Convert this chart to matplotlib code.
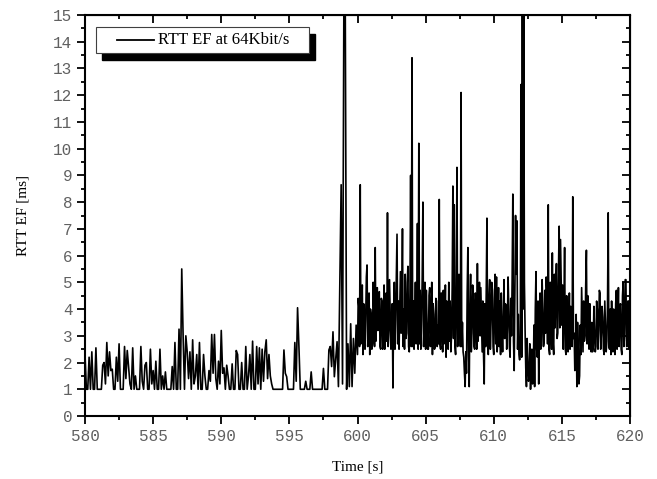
import numpy as np
import matplotlib
matplotlib.use("Agg")
import matplotlib.pyplot as plt
from matplotlib.patches import Rectangle
from matplotlib.lines import Line2D
from matplotlib.ticker import MultipleLocator

# RTT samples.
# 580-600 s: one sample every 0.1 s, one row per second
rtt_580s = [
    2.3, 1.0, 1.0, 2.2, 1.0, 2.4, 1.0, 1.0, 2.55, 1.0,
    1.0, 1.0, 1.0, 1.9, 2.0, 1.2, 2.75, 1.5, 2.4, 1.7,
    1.75, 1.0, 1.0, 2.2, 1.3, 2.7, 1.0, 1.0, 1.0, 2.6,
    1.4, 2.45, 1.8, 1.2, 1.0, 2.55, 1.0, 1.5, 1.0, 1.0,
    1.0, 2.6, 1.3, 1.0, 1.9, 2.0, 1.0, 1.0, 2.5, 1.2,
    1.7, 1.0, 2.05, 1.0, 1.0, 2.5, 1.0, 1.5, 1.0, 1.65,
    1.0, 1.0, 1.0, 1.0, 1.85, 1.0, 2.75, 1.0, 1.0, 3.25,
    1.0, 5.5, 3.0, 1.0, 3.0, 2.4, 1.4, 2.4, 1.0, 2.85,
    1.2, 1.5, 2.3, 1.0, 2.75, 1.0, 1.0, 2.3, 1.5, 1.0,
    1.0, 1.7, 1.3, 3.05, 1.6, 3.05, 1.4, 1.0, 2.05, 1.2,
]
rtt_590s = [
    3.2, 1.6, 1.8, 1.0, 1.9, 1.5, 1.0, 1.0, 1.95, 1.0,
    1.0, 2.45, 2.3, 1.0, 1.0, 2.0, 1.0, 1.0, 2.6, 1.0,
    1.5, 2.3, 1.0, 2.8, 1.0, 1.0, 2.6, 1.2, 2.55, 1.0,
    2.5, 1.3, 2.4, 2.85, 1.4, 2.3, 1.5, 1.2, 1.0, 1.0,
    1.0, 1.0, 1.0, 1.0, 1.0, 1.0, 2.47, 1.6, 1.47, 1.0,
    1.0, 1.0, 1.0, 1.0, 2.75, 1.3, 4.05, 2.6, 1.0, 1.0,
    1.0, 1.0, 1.3, 1.0, 1.0, 1.0, 1.65, 1.0, 1.0, 1.0,
    1.0, 1.0, 1.0, 1.0, 1.0, 1.78, 1.0, 1.0, 1.0, 2.47,
    2.6, 1.85, 3.15, 1.47, 2.1, 2.78, 1.1, 4.8, 8.65, 1.2,
    15.5, 15.5, 1.0, 2.7, 1.1, 3.45, 1.1, 2.9, 1.6, 3.4,
]
# 600-620 s: one sample every 0.05 s, one row per second
rtt_600s = [
    2.3, 4.4, 4.1, 2.6, 8.65, 2.7, 3.7, 4.9, 2.3, 4.2, 3.9, 2.5, 3.6, 5.2, 5.65, 2.6, 3.5, 4.6, 2.3, 4.0,
    3.8, 2.5, 2.7, 5.0, 4.0, 2.6, 6.3, 2.8, 3.6, 4.8, 3.2, 4.5, 4.65, 2.6, 2.5, 4.4, 4.3, 2.5, 3.4, 4.9,
    2.5, 4.5, 4.6, 2.8, 7.6, 2.6, 3.2, 5.1, 3.7, 2.5, 2.6, 4.2, 1.05, 3.9, 5.0, 2.5, 3.6, 5.3, 6.8, 2.7,
    4.3, 2.5, 3.9, 5.4, 3.1, 4.3, 7.0, 2.6, 4.0, 2.5, 5.3, 2.9, 3.1, 5.0, 5.6, 2.6, 2.4, 4.6, 9.0, 2.6,
    13.4, 2.6, 4.3, 2.5, 3.5, 5.0, 2.7, 4.1, 7.2, 2.5, 10.2, 2.7, 4.7, 2.5, 3.6, 5.2, 8.0, 2.6, 3.7, 5.0,
    2.5, 4.7, 3.5, 2.5, 2.5, 4.5, 4.8, 2.6, 3.3, 5.0, 2.3, 4.2, 3.8, 2.5, 2.6, 4.4, 4.3, 2.6, 3.4, 2.7,
    8.1, 2.7, 2.5, 4.6, 3.6, 2.4, 4.7, 2.7, 3.3, 4.9, 2.2, 4.3, 3.8, 2.5, 5.0, 2.8, 4.3, 2.4, 3.0, 4.8,
    8.6, 2.9, 7.9, 2.6, 2.3, 4.6, 9.3, 2.6, 3.4, 5.3, 5.1, 2.6, 12.1, 2.6, 3.5, 2.4, 2.2, 1.6, 1.1, 2.4,
    1.6, 4.6, 6.3, 2.3, 1.1, 4.2, 5.3, 2.4, 3.1, 4.9, 4.3, 2.6, 2.5, 4.6, 3.4, 2.5, 5.7, 2.8, 3.6, 5.0,
    3.0, 4.8, 3.5, 2.4, 4.3, 2.3, 1.2, 4.2, 2.6, 4.7, 7.4, 2.6, 2.3, 4.5, 5.1, 2.5, 3.5, 5.0, 4.7, 2.6,
]
rtt_610s = [
    2.3, 4.4, 5.3, 2.7, 5.2, 2.4, 3.2, 4.8, 2.6, 4.3, 2.3, 4.6, 3.2, 2.4, 3.6, 5.1, 2.9, 4.2, 4.15, 2.5,
    3.3, 5.2, 4.1, 2.6, 2.2, 4.4, 3.0, 5.1, 8.3, 2.8, 1.7, 4.7, 7.5, 5.3, 7.3, 2.5, 3.8, 2.3, 2.1, 2.8,
    12.4, 2.2, 15.5, 4.0, 15.5, 5.0, 3.2, 1.8, 1.1, 2.9, 2.0, 1.3, 1.5, 2.7, 1.0, 1.9, 2.5, 1.2, 1.5, 3.4,
    1.1, 4.0, 5.4, 2.5, 2.2, 4.3, 1.2, 3.7, 4.6, 2.5, 2.7, 5.1, 4.0, 2.6, 2.8, 4.7, 3.1, 5.2, 4.6, 2.7,
    7.9, 2.5, 2.3, 5.0, 3.5, 2.5, 6.1, 2.8, 2.3, 5.3, 3.3, 4.8, 5.7, 2.9, 3.1, 5.4, 7.1, 3.3, 6.6, 5.0,
    3.4, 4.9, 2.5, 4.0, 6.3, 2.5, 2.3, 4.5, 3.3, 2.4, 3.2, 4.6, 2.5, 4.1, 2.8, 2.6, 8.2, 2.9, 3.1, 1.7,
    2.2, 3.8, 1.1, 3.5, 2.5, 1.2, 1.5, 3.4, 2.3, 4.8, 3.6, 2.4, 4.3, 2.8, 3.0, 4.9, 6.2, 2.7, 4.5, 2.9,
    2.5, 4.2, 3.0, 2.4, 3.5, 2.4, 2.6, 4.1, 3.1, 2.4, 2.6, 4.3, 4.0, 2.5, 3.2, 4.7, 4.6, 2.5, 3.1, 4.1,
    3.7, 2.5, 2.3, 4.3, 3.3, 2.4, 2.8, 4.1, 7.6, 2.6, 2.5, 4.0, 2.3, 4.3, 3.2, 2.4, 4.0, 2.6, 2.3, 4.2,
    4.7, 2.5, 3.4, 4.8, 2.6, 4.0, 4.2, 2.5, 2.3, 4.5, 5.0, 2.6, 3.0, 5.1, 5.1, 2.6, 2.6, 4.3, 4.3, 2.5,
    5.0,
]

X_TICKS = [580, 585, 590, 595, 600, 605, 610, 615, 620]
Y_TICKS = list(range(0, 16))
LEGEND_LABEL = "RTT EF at 64Kbit/s"

rtt_slow = np.array(rtt_580s + rtt_590s)
rtt_fast = np.array(rtt_600s + rtt_610s)
time_slow = 580.0 + 0.1 * np.arange(len(rtt_slow))
time_fast = 600.0 + 0.05 * np.arange(len(rtt_fast))
time_s = np.concatenate([time_slow, time_fast])
rtt = np.concatenate([rtt_slow, rtt_fast])

fig = plt.figure(figsize=(6.57, 4.79), dpi=100)
ax = fig.add_axes([0.1294, 0.1315, 0.8295, 0.8372])

ax.plot(time_s, rtt, color="black", linewidth=1.2)

ax.set_xlim(580, 620)
ax.set_ylim(0, 15)
ax.set_xticks(X_TICKS)
ax.set_yticks(Y_TICKS)
ax.xaxis.set_minor_locator(MultipleLocator(2.5))
ax.yaxis.set_minor_locator(MultipleLocator(0.5))

for side in ["left", "right", "top", "bottom"]:
    ax.spines[side].set_linewidth(1.5)

# Origin-style ticks: out on left/bottom, in on top/right
ax.tick_params(which="major", direction="out", length=6, width=1.3,
               top=False, right=False, pad=3)
ax.tick_params(which="minor", direction="out", length=3, width=1.3,
               top=False, right=False)
ax2 = ax.secondary_xaxis("top")
ax2.set_xticks(X_TICKS)
ax2.xaxis.set_minor_locator(MultipleLocator(2.5))
ax2.tick_params(which="major", direction="in", length=6, width=1.3, labeltop=False)
ax2.tick_params(which="minor", direction="in", length=3, width=1.3)
ax3 = ax.secondary_yaxis("right")
ax3.set_yticks(Y_TICKS)
ax3.yaxis.set_minor_locator(MultipleLocator(0.5))
ax3.tick_params(which="major", direction="in", length=6, width=1.3, labelright=False)
ax3.tick_params(which="minor", direction="in", length=3, width=1.3)

for lbl in ax.get_xticklabels() + ax.get_yticklabels():
    lbl.set_fontfamily("Liberation Mono")
    lbl.set_fontsize(11.5)
    lbl.set_color("#606060")

ax.set_xlabel("Time [s]", fontfamily="Liberation Serif", fontsize=11, labelpad=12)
ax.set_ylabel("RTT EF [ms]", fontfamily="Liberation Serif", fontsize=11, labelpad=17)

# legend box with a hard black shadow, drawn by hand
bx, by, bw, bh = 0.0202, 0.905, 0.391, 0.065
ax.add_patch(Rectangle((bx + 0.011, by - 0.0175), bw, bh, transform=ax.transAxes,
                       facecolor="black", edgecolor="black", zorder=5, clip_on=False))
ax.add_patch(Rectangle((bx, by), bw, bh, transform=ax.transAxes,
                       facecolor="white", edgecolor="#404040", linewidth=0.8,
                       zorder=6, clip_on=False))
ax.add_line(Line2D([0.0587, 0.1266], [0.9377, 0.9377], transform=ax.transAxes,
                   color="black", linewidth=1.3, zorder=7))
ax.text(0.134, 0.9377, LEGEND_LABEL, transform=ax.transAxes, va="center", ha="left",
        fontfamily="Liberation Serif", fontsize=12, zorder=7)

fig.savefig("out.png", dpi=100)
